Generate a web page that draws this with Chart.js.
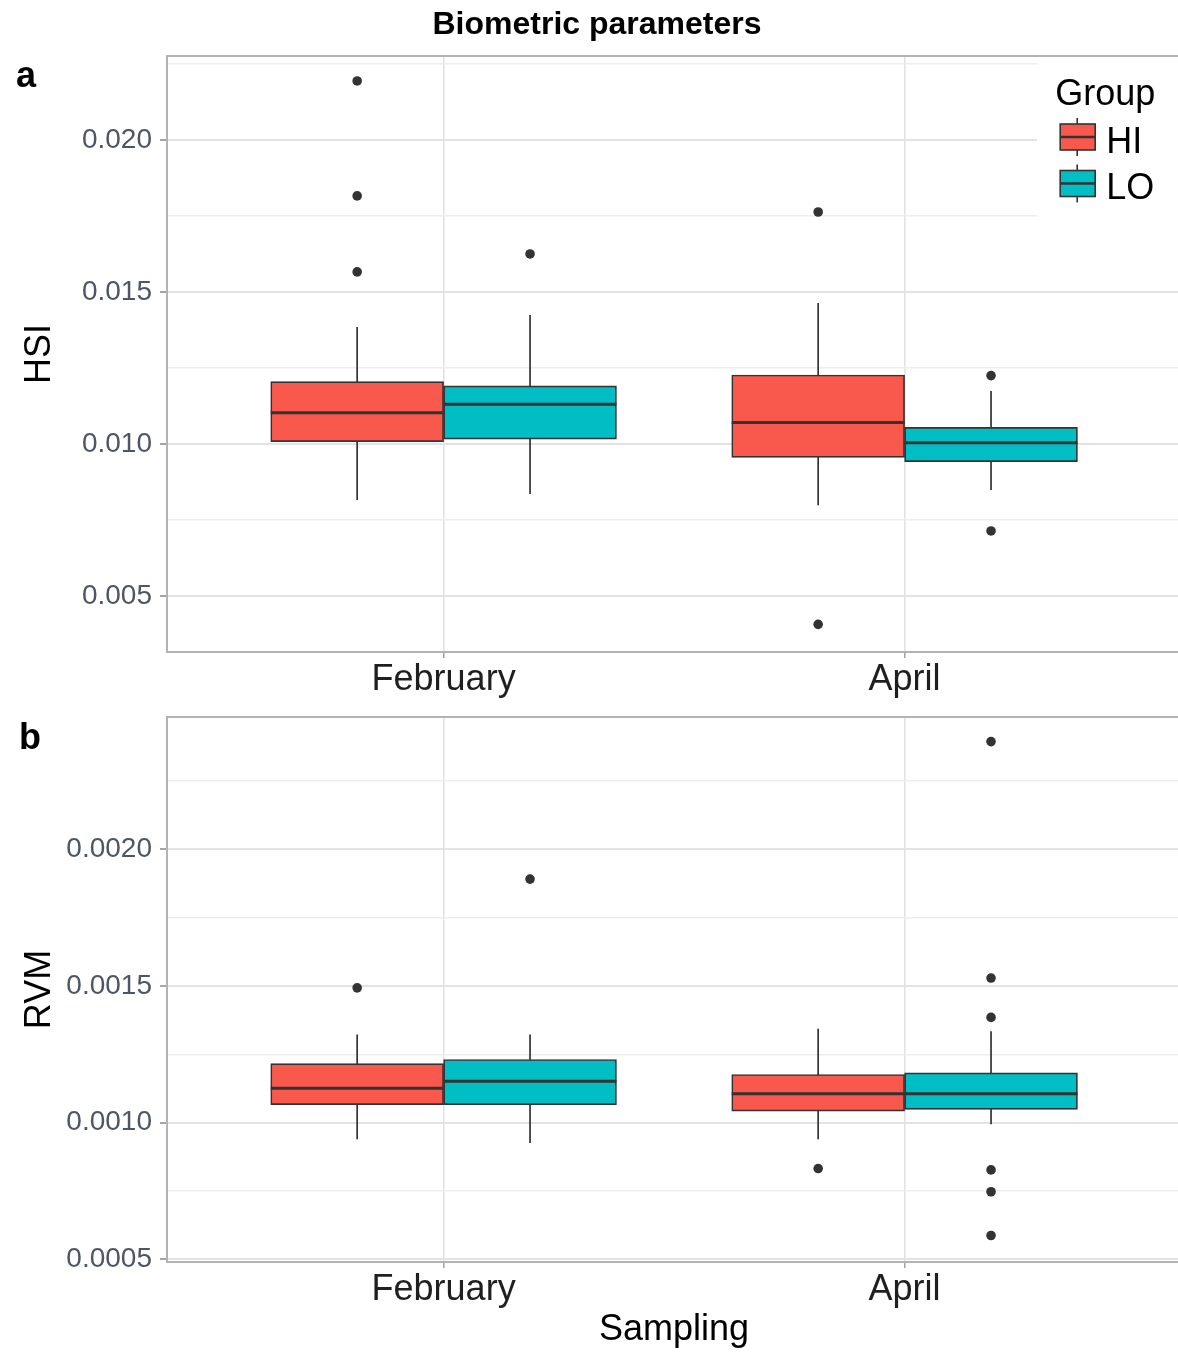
<!DOCTYPE html>
<html>
<head>
<meta charset="utf-8">
<title>Biometric parameters</title>
<script src="https://cdn.jsdelivr.net/npm/chart.js@4/dist/chart.umd.min.js"></script>
<style>
  html, body { margin: 0; padding: 0; background: #fff; overflow: hidden; }
  #page { position: relative; width: 1178px; height: 1353px; overflow: hidden;
          font-family: 'Liberation Sans', Arial, sans-serif; color: #000; }
  canvas { position: absolute; left: 0; }
  #chart-a { top: 0; }
  #chart-b { top: 705px; }
  .title { position: absolute; top: 7px; left: 0; width: 1194px; text-align: center;
           font-weight: bold; font-size: 32px; line-height: 32px; z-index: 2; }
  .tag { position: absolute; font-weight: bold; font-size: 36px; line-height: 36px; z-index: 2; }
</style>
</head>
<body>
<div id="page">
  <canvas id="chart-a" width="1186" height="705"></canvas>
  <canvas id="chart-b" width="1186" height="648"></canvas>
  <div class="title">Biometric parameters</div>
  <div class="tag" style="left:16px; top:57px;">a</div>
  <div class="tag" style="left:19px; top:719px;">b</div>
</div>

<script>
/* ============================================================
   Biometric parameters — two ggplot-style box plots
   ============================================================ */

// --- Categories ---
const SAMPLING = ['February', 'April'];
const GROUPS   = ['HI', 'LO'];

// --- Panel a : HSI  (rows = [HI, LO], columns = [February, April]) ---
const HSI_LOWER  = [[0.00816, 0.00799], [0.00836, 0.00849]];
const HSI_Q1     = [[0.01008, 0.00956], [0.01016, 0.00942]];
const HSI_MEDIAN = [[0.01103, 0.01071], [0.01131, 0.01004]];
const HSI_Q3     = [[0.01205, 0.01227], [0.01191, 0.01055]];
const HSI_UPPER  = [[0.01385, 0.01464], [0.01424, 0.01174]];
const HSI_OUTLIERS = [
  [[0.02194, 0.01816, 0.01566], [0.01763, 0.00407]],
  [[0.01625],                   [0.01225, 0.00714]],
];
const HSI_RANGE       = [0.00316, 0.02276];
const HSI_TICKS       = [0.005, 0.010, 0.015, 0.020];
const HSI_MINOR_TICKS = [0.0075, 0.0125, 0.0175, 0.0225];

// --- Panel b : RVM ---
const RVM_LOWER  = [[0.000939, 0.000939], [0.000925, 0.000994]];
const RVM_Q1     = [[0.001066, 0.001042], [0.001066, 0.001048]];
const RVM_MEDIAN = [[0.001126, 0.001106], [0.001151, 0.001106]];
const RVM_Q3     = [[0.001216, 0.001176], [0.001231, 0.001182]];
const RVM_UPPER  = [[0.001322, 0.001343], [0.001322, 0.001334]];
const RVM_OUTLIERS = [
  [[0.001493], [0.000832]],
  [[0.001891], [0.002394, 0.001529, 0.001385, 0.000827, 0.000747, 0.000587]],
];
const RVM_RANGE       = [0.00049, 0.002484];
const RVM_TICKS       = [0.0005, 0.0010, 0.0015, 0.0020];
const RVM_MINOR_TICKS = [0.00075, 0.00125, 0.00175, 0.00225];

// --- Style ---
const GROUP_COLORS = ['#F8594C', '#00BEC4'];
const INK        = '#333333';
const GRID_MAJOR = '#e3e3e3';
const GRID_MINOR = '#ededed';
const FRAME      = '#b3b3b3';
const FONT       = "'Liberation Sans', Arial, sans-serif";
const DODGE      = 0.375;   // half of ggplot's 0.75 dodge width

Chart.defaults.font.family = FONT;

// x position of a group's box inside a sampling slot
function xFor(s, g) {
  return s + 1 + (g - (GROUPS.length - 1) / 2) * DODGE;
}

// no label overflow padding: the panel edges are fixed by layout.padding
function noScalePadding(scale) {
  scale.paddingTop = 0;
  scale.paddingBottom = 0;
  scale.paddingLeft = 0;
  scale.paddingRight = 0;
}

// -------------------------------------------------------
// Panel frame (ggplot panel.border, drawn above the data)
// -------------------------------------------------------
const panelFrame = {
  id: 'panelFrame',
  afterDatasetsDraw(chart) {
    const { ctx, chartArea: a } = chart;
    ctx.save();
    ctx.strokeStyle = FRAME;
    ctx.lineWidth = 2;
    ctx.strokeRect(a.left, a.top, a.right - a.left, a.bottom - a.top);
    ctx.restore();
  },
};

// -------------------------------------------------------
// Box-plot legend inside the top-right corner of panel a
// -------------------------------------------------------
const groupLegend = {
  id: 'groupLegend',
  afterDraw(chart, args, opts) {
    if (!opts.display) return;
    const { ctx, chartArea: a } = chart;
    const left = a.right - 144;
    const top  = a.top + 2;

    ctx.save();
    ctx.fillStyle = '#fff';
    ctx.fillRect(left, top, a.right - left, 164);

    ctx.fillStyle = '#000';
    ctx.font = '36px ' + FONT;
    ctx.textBaseline = 'alphabetic';
    ctx.fillText('Group', left + 18, top + 47);

    GROUPS.forEach((name, g) => {
      const by = top + 66 + g * 46.5;
      const bx = left + 23;
      const cx = bx + 17;
      ctx.strokeStyle = INK;
      ctx.lineWidth = 1.6;
      ctx.beginPath();
      ctx.moveTo(cx, by - 6);
      ctx.lineTo(cx, by + 32);
      ctx.stroke();
      ctx.fillStyle = GROUP_COLORS[g];
      ctx.fillRect(bx, by, 35, 26);
      ctx.strokeRect(bx, by, 35, 26);
      ctx.lineWidth = 2.5;
      ctx.beginPath();
      ctx.moveTo(bx, by + 13);
      ctx.lineTo(bx + 35, by + 13);
      ctx.stroke();

      ctx.fillStyle = '#000';
      ctx.fillText(name, left + 69, top + 95 + g * 46);
    });
    ctx.restore();
  },
};

// -------------------------------------------------------
// Datasets : whiskers, boxes, medians, outliers
// -------------------------------------------------------
function buildDatasets(stats) {
  const { lower, q1, median, q3, upper, outliers } = stats;
  const sets = [];

  GROUPS.forEach((name, g) => {
    const whisker = [];
    const mid = [];
    SAMPLING.forEach((_, s) => {
      const x = xFor(s, g);
      whisker.push({ x, y: lower[g][s] }, { x, y: upper[g][s] }, { x, y: null });
      mid.push({ x: x - DODGE / 2, y: median[g][s] }, { x: x + DODGE / 2, y: median[g][s] }, { x, y: null });
    });

    sets.push({
      type: 'line', label: name + ' whiskers', data: whisker, order: 3,
      borderColor: INK, borderWidth: 1.7, pointRadius: 0, spanGaps: false,
    });
    sets.push({
      type: 'bar', label: name, order: 2,
      data: SAMPLING.map((_, s) => ({ x: xFor(s, g), y: [q1[g][s], q3[g][s]] })),
      backgroundColor: GROUP_COLORS[g], borderColor: INK, borderWidth: 1.7,
      borderSkipped: false, grouped: false, barPercentage: 1, categoryPercentage: 1,
    });
    sets.push({
      type: 'line', label: name + ' median', data: mid, order: 1,
      borderColor: INK, borderWidth: 3, pointRadius: 0, spanGaps: false,
    });
    sets.push({
      type: 'scatter', label: name + ' outliers', order: 0,
      data: outliers[g].flatMap((vals, s) => vals.map(y => ({ x: xFor(s, g), y }))),
      pointRadius: 4.8, backgroundColor: INK, borderWidth: 0,
    });
  });
  return sets;
}

// -------------------------------------------------------
// One panel
// -------------------------------------------------------
function renderPanel(canvasId, p) {
  new Chart(document.getElementById(canvasId), {
    type: 'bar',
    data: { datasets: buildDatasets(p.stats) },
    options: {
      responsive: false,
      animation: false,
      events: [],
      layout: { padding: { top: p.padTop, left: 0, right: 2, bottom: 0 } },
      plugins: {
        legend: { display: false },
        tooltip: { enabled: false },
        groupLegend: { display: p.legend },
      },
      scales: {
        x: {
          type: 'linear',
          min: 0.4,
          max: SAMPLING.length + 0.6,
          offset: false,
          afterBuildTicks: scale => { scale.ticks = SAMPLING.map((_, i) => ({ value: i + 1 })); },
          afterFit: scale => { scale.height = p.xHeight; noScalePadding(scale); },
          ticks: {
            callback: (v, i) => SAMPLING[i],
            color: '#1f1f1f',
            font: { size: 36, lineHeight: 1.2 },
            padding: 0,
            maxRotation: 0,
            autoSkip: false,
          },
          grid: { offset: false, color: GRID_MAJOR, lineWidth: 1.6, tickLength: 6, tickColor: '#a6a6a6' },
          border: { display: false },
          title: {
            display: !!p.xTitle,
            text: p.xTitle || '',
            color: '#000',
            font: { size: 36, lineHeight: 1.2 },
            padding: { top: 0, bottom: 1 },
          },
        },
        y: {
          type: 'linear',
          min: p.range[0],
          max: p.range[1],
          beginAtZero: false,
          afterBuildTicks: scale => {
            scale.ticks = p.ticks.map(v => ({ value: v }))
              .concat(p.minor.map(v => ({ value: v, minor: true })))
              .sort((a, b) => a.value - b.value);
          },
          afterFit: scale => { scale.width = 167; noScalePadding(scale); },
          ticks: {
            callback: (v, i, ticks) => (ticks[i].minor ? '' : v.toFixed(p.decimals)),
            color: '#4d5566',
            font: { size: 28 },
            padding: 8,
            autoSkip: false,
          },
          grid: {
            color: c => (c.tick && c.tick.minor ? GRID_MINOR : GRID_MAJOR),
            lineWidth: c => (c.tick && c.tick.minor ? 1.4 : 2),
            tickLength: 7,
            tickColor: c => (c.tick && c.tick.minor ? 'rgba(0,0,0,0)' : '#a6a6a6'),
          },
          border: { display: false },
          title: {
            display: true,
            text: p.yTitle,
            color: '#000',
            font: { size: 36, lineHeight: 1.2 },
            padding: { top: 18, bottom: 0 },
          },
        },
      },
    },
    plugins: [panelFrame, groupLegend],
  });
}

// --- Init ---
renderPanel('chart-a', {
  stats: { lower: HSI_LOWER, q1: HSI_Q1, median: HSI_MEDIAN, q3: HSI_Q3, upper: HSI_UPPER, outliers: HSI_OUTLIERS },
  range: HSI_RANGE, ticks: HSI_TICKS, minor: HSI_MINOR_TICKS, decimals: 3,
  yTitle: 'HSI', xTitle: null, legend: true, padTop: 56, xHeight: 53,
});

renderPanel('chart-b', {
  stats: { lower: RVM_LOWER, q1: RVM_Q1, median: RVM_MEDIAN, q3: RVM_Q3, upper: RVM_UPPER, outliers: RVM_OUTLIERS },
  range: RVM_RANGE, ticks: RVM_TICKS, minor: RVM_MINOR_TICKS, decimals: 4,
  yTitle: 'RVM', xTitle: 'Sampling', legend: false, padTop: 12, xHeight: 91,
});
</script>
</body>
</html>
